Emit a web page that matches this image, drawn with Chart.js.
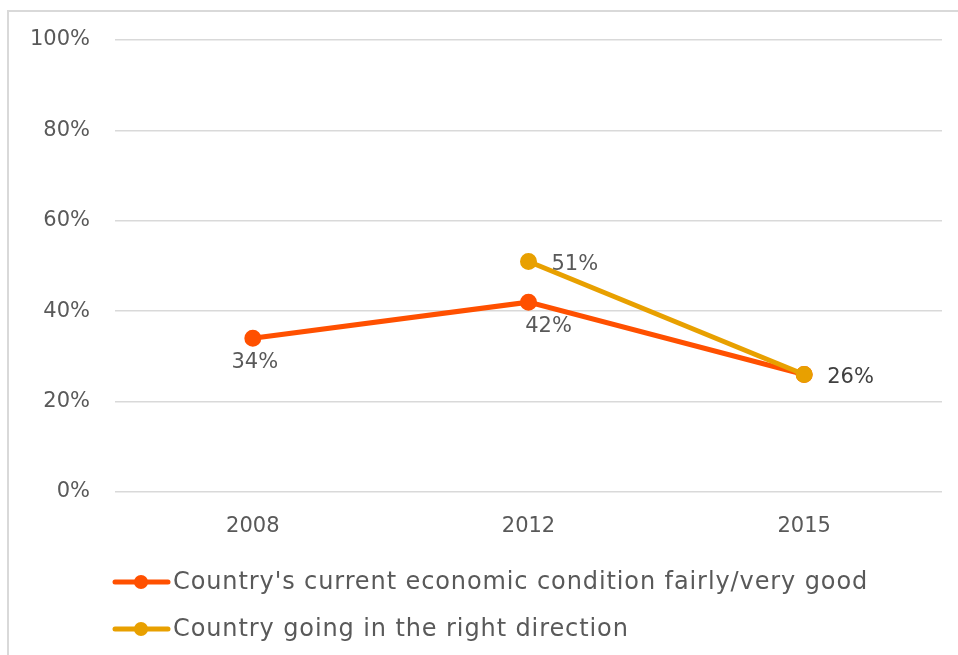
<!DOCTYPE html>
<html>
<head>
<meta charset="utf-8">
<script src="https://cdn.jsdelivr.net/npm/chart.js@4/dist/chart.umd.min.js"></script>
<style>
    body { margin: 0; background: #fff; }
    canvas { display: block; }
</style>
</head>
<body>
<canvas id="chart" width="958" height="655"></canvas>
<script>
// chart data
const years = ["2008", "2012", "2015"];
const economyGood = [34, 42, 26];
const rightDirection = [null, 51, 26];
const yTicks = [0, 20, 40, 60, 80, 100];

// which labels to show and where (per point)
const economyLabelPos = ["below", "below", null];
const directionLabelPos = [null, "right", "right"];

const FONT = "'DejaVu Sans', sans-serif";
const TEXT = "#595959";

const extras = {
    id: "extras",
    beforeDraw(chart) {
        const ctx = chart.ctx;
        ctx.save();
        // outer frame, only top and left edges visible
        ctx.strokeStyle = "#d9d9d9";
        ctx.lineWidth = 2;
        ctx.beginPath();
        ctx.moveTo(8, 655);
        ctx.lineTo(8, 11);
        ctx.lineTo(958, 11);
        ctx.stroke();
        ctx.restore();
    },
    afterDatasetsDraw(chart) {
        const ctx = chart.ctx;
        ctx.save();
        ctx.font = "21px " + FONT;
        ctx.textBaseline = "middle";
        chart.data.datasets.forEach((ds, i) => {
            const meta = chart.getDatasetMeta(i);
            ds.labelPos.forEach((pos, j) => {
                if (!pos || ds.data[j] == null) return;
                const pt = meta.data[j];
                const txt = ds.data[j] + "%";
                if (pos === "below") {
                    ctx.fillStyle = TEXT;
                    ctx.textAlign = "center";
                    ctx.fillText(txt, pt.x + (j === 1 ? 20 : 2), pt.y + 24);
                } else {
                    ctx.fillStyle = j === 2 ? "#404040" : TEXT;
                    ctx.textAlign = "left";
                    ctx.fillText(txt, pt.x + 23, pt.y + 3);
                }
            });
        });

        // legend: line + marker, then label
        ctx.font = "24px " + FONT;
        ctx.letterSpacing = "0.9px";
        ctx.textAlign = "left";
        chart.data.datasets.forEach((ds, i) => {
            const y = 582 + i * 47;
            ctx.strokeStyle = ds.borderColor;
            ctx.lineWidth = 5;
            ctx.lineCap = "round";
            ctx.beginPath();
            ctx.moveTo(115, y);
            ctx.lineTo(168, y);
            ctx.stroke();
            ctx.fillStyle = ds.borderColor;
            ctx.beginPath();
            ctx.arc(141, y, 7, 0, Math.PI * 2);
            ctx.fill();
            ctx.fillStyle = TEXT;
            ctx.fillText(ds.label, 173, y + 1);
        });
        ctx.restore();
    },
};

new Chart(document.getElementById("chart"), {
    type: "line",
    data: {
        labels: years,
        datasets: [
            {
                label: "Country's current economic condition fairly/very good",
                data: economyGood,
                labelPos: economyLabelPos,
                borderColor: "#ff5000",
                backgroundColor: "#ff5000",
                borderWidth: 5,
                pointRadius: 6,
                pointHoverRadius: 6,
                tension: 0,
                order: 1,
            },
            {
                label: "Country going in the right direction",
                data: rightDirection,
                labelPos: directionLabelPos,
                borderColor: "#e8a000",
                backgroundColor: "#e8a000",
                borderWidth: 5,
                pointRadius: 6,
                pointHoverRadius: 6,
                tension: 0,
                order: 0,
            },
        ],
    },
    options: {
        responsive: false,
        animation: false,
        layout: { padding: { top: 40, right: 16, left: 0, bottom: 0 } },
        plugins: {
            legend: { display: false },
            tooltip: { enabled: false },
        },
        scales: {
            x: {
                offset: true,
                grid: { display: false, drawTicks: false },
                border: { display: false },
                ticks: {
                    padding: 22,
                    color: TEXT,
                    font: { family: FONT, size: 21, lineHeight: 1.2 },
                },
                afterFit: (scale) => { scale.height = 163; },
            },
            y: {
                min: 0,
                max: 100,
                afterBuildTicks: (scale) => {
                    scale.ticks = yTicks.map((v) => ({ value: v }));
                },
                grid: { color: "#d9d9d9", lineWidth: 1.5, drawTicks: false },
                border: { display: false },
                ticks: {
                    padding: 25,
                    color: TEXT,
                    font: { family: FONT, size: 21 },
                    callback: (v) => v + "%",
                },
                afterFit: (scale) => { scale.width = 115; },
            },
        },
    },
    plugins: [extras],
});
</script>
</body>
</html>
